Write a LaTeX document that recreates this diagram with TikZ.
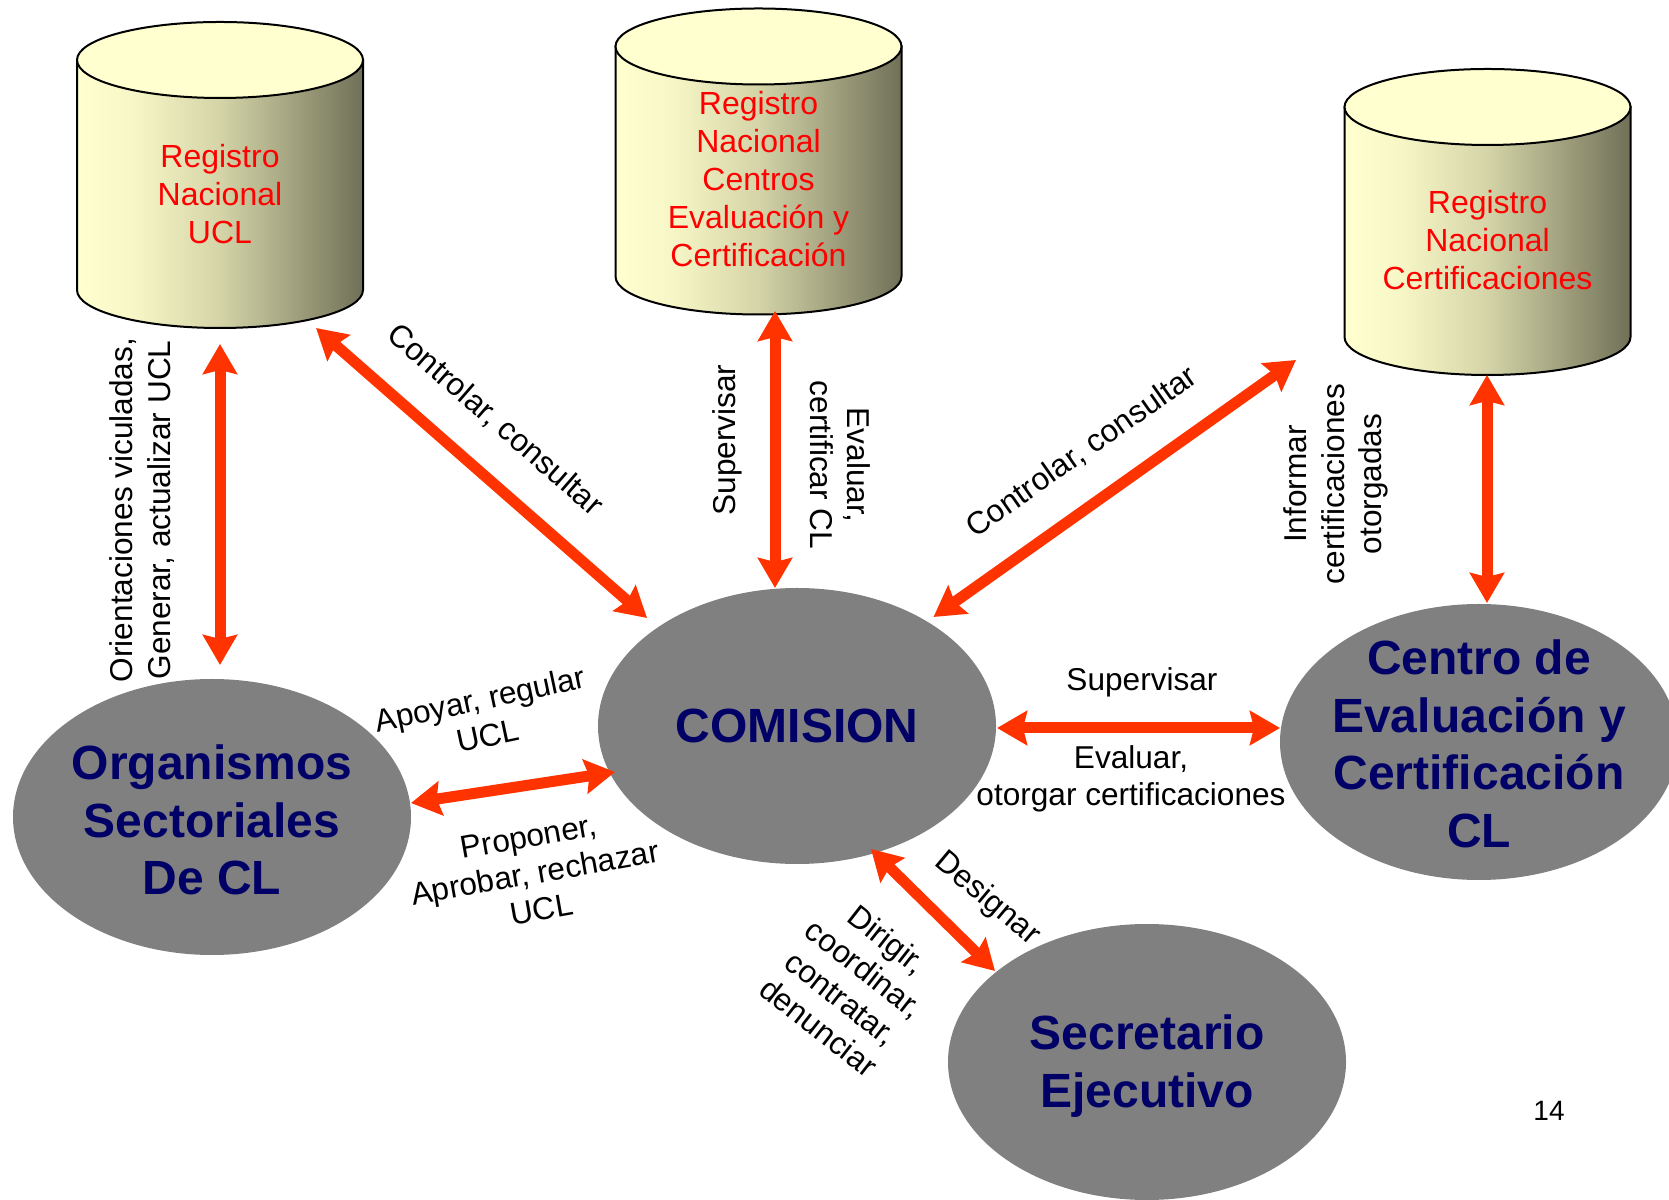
\documentclass[tikz,border=0pt]{standalone}
\usepackage{fontspec}
\setmainfont{Liberation Sans}
\usepackage{tikz}
\usetikzlibrary{
	shapes.geometric,
	arrows.meta
}

\definecolor{relred}{RGB}{255,51,0}
\definecolor{blobgray}{RGB}{128,128,128}
\definecolor{navytxt}{RGB}{0,0,102}
\definecolor{cylA}{RGB}{255,255,208}
\definecolor{cylB}{RGB}{246,246,198}
\definecolor{cylC}{RGB}{212,212,168}
\definecolor{cylD}{RGB}{165,165,130}
\definecolor{cylE}{RGB}{112,112,88}
\pgfdeclarehorizontalshading{cylshade}{100bp}{color(0bp)=(cylA); color(25bp)=(cylA);
	color(35bp)=(cylB); color(50bp)=(cylC); color(62bp)=(cylD); color(75bp)=(cylE); color(100bp)=(cylE)}

\begin{document}
\begin{tikzpicture}[x=0.5pt,y=0.5pt,
	>={Stealth[length=15pt,width=17pt,inset=2pt]},
	blob/.style={ellipse,fill=blobgray,minimum width=199pt,minimum height=138pt,inner sep=0pt},
	bigtxt/.style={text=navytxt,align=center,font=\fontsize{24}{28.75}\selectfont\bfseries},
	regtxt/.style={text=red,align=center,font=\fontsize{16}{19}\selectfont},
	lbl/.style={align=center,inner sep=0pt,font=\fontsize{15.8}{18.6}\selectfont},
	rel/.style={<->,line width=5.5pt,draw=relred}
]
	\useasboundingbox (0,0) rectangle (1669,1199);

	% registros
	\foreach \x/\y in {220/1139,758.5/1152.5,1487.5/1092}{
		\shade[shading=cylshade,draw,line width=1pt]
			(\x-143,\y) -- (\x-143,\y-230) arc (180:360:143 and 38) -- (\x+143,\y) -- cycle;
		\filldraw[fill=cylA,line width=1pt] (\x,\y) ellipse [x radius=143,y radius=38];
	}
	\node[regtxt] (ucl) at (220,1005)   {Registro\\Nacional\\UCL};
	\node[regtxt] (cev) at (758.5,1020) {Registro\\Nacional\\Centros\\Evaluación y\\Certificación};
	\node[regtxt] (rnc) at (1487.5,959) {Registro\\Nacional\\Certificaciones};

	% actores
	\node[blob] (com) at (797,473)  {};
	\node[blob] (osc) at (212,382)  {};
	\node[blob] (cec) at (1479,457) {};
	\node[blob] (sej) at (1147,137) {};
	\node[bigtxt] (com-t) at (com)            {COMISION};
	\node[bigtxt] (osc-t) at (212,379)        {Organismos\\Sectoriales\\De CL};
	\node[bigtxt] (cec-t) at (1479,455)       {Centro de\\Evaluación y\\Certificación\\CL};
	\node[bigtxt] (sej-t) at (1147,133)       {Secretario\\Ejecutivo};

	% extremos de las flechas
	\coordinate (ucl-s)  at (220,855);
	\coordinate (osc-n)  at (220,534);
	\coordinate (ucl-se) at (316,871);
	\coordinate (com-nw) at (647,581);
	\coordinate (cev-s)  at (775,888);
	\coordinate (com-n)  at (775,611);
	\coordinate (com-ne) at (933.5,582);
	\coordinate (rnc-sw) at (1296,839);
	\coordinate (rnc-s)  at (1487,824);
	\coordinate (cec-n)  at (1487,596);
	\coordinate (com-e)  at (997,471);
	\coordinate (cec-w)  at (1280,471);
	\coordinate (osc-e)  at (411,396);
	\coordinate (com-w)  at (615,427);
	\coordinate (com-s)  at (871,350);
	\coordinate (sej-nw) at (995,228);

	\path
		(ucl-s)  edge[rel] (osc-n)
		(ucl-se) edge[rel] (com-nw)
		(cev-s)  edge[rel] (com-n)
		(com-ne) edge[rel] (rnc-sw)
		(rnc-s)  edge[rel] (cec-n)
		(com-e)  edge[rel] (cec-w)
		(osc-e)  edge[rel] (com-w)
		(com-s)  edge[rel] (sej-nw)
	;

	% etiquetas
	\node[lbl,rotate=90]  (orient) at (142,689)  {Orientaciones viculadas,\\Generar, actualizar UCL};
	\node[lbl,rotate=-41] (ctl-l)  at (495,779)  {Controlar, consultar};
	\node[lbl,rotate=90]  (sup-v)  at (727,759)  {Supervisar};
	\node[lbl,rotate=-90] (evc)    at (840,734)  {Evaluar,\\certificar CL};
	\node[lbl,rotate=35]  (ctl-r)  at (1082,747) {Controlar, consultar};
	\node[lbl,rotate=90]  (inf)    at (1336,715) {Informar\\certificaciones\\otorgadas};
	\node[lbl]            (sup-h)  at (1142,517) {Supervisar};
	\node[lbl]            (evo)    at (1131,420) {Evaluar,\\otorgar certificaciones};
	\node[lbl,rotate=12]  (apo)    at (484,482)  {Apoyar, regular\\UCL};
	\node[lbl,rotate=10]  (pro)    at (535,326)  {Proponer,\\Aprobar, rechazar\\UCL};
	\node[lbl,rotate=-40] (des)    at (987,300)  {Designar};
	\node[lbl,rotate=-38] (dir)    at (853,216)  {Dirigir,\\coordinar,\\contratar,\\denunciar};
	\node[font=\fontsize{14}{16}\selectfont] (pag) at (1549,88) {14};
\end{tikzpicture}
\end{document}
